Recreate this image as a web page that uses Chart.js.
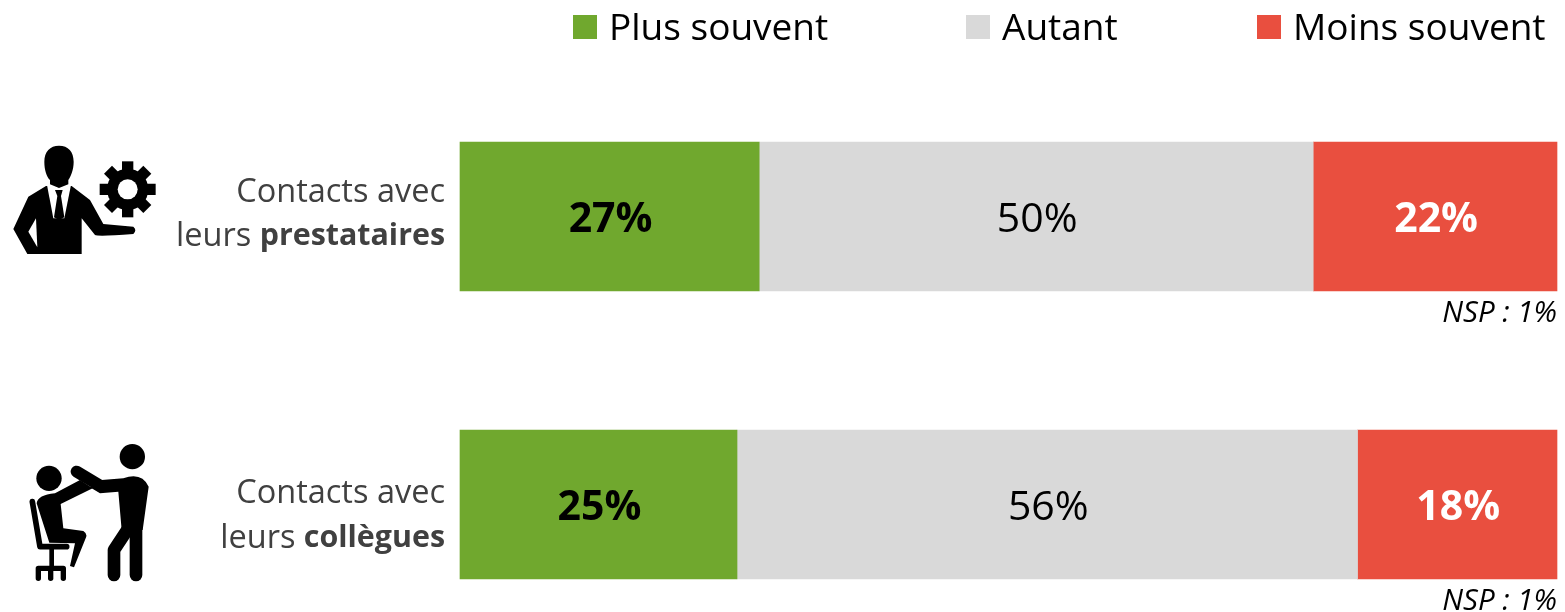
<!DOCTYPE html>
<html>
<head>
<meta charset="utf-8">
<script src="https://cdn.jsdelivr.net/npm/chart.js@4"></script>
<style>
  html,body{margin:0;padding:0;background:#fff;overflow:hidden}
  #wrap{position:relative;width:1565px;height:612px}
  #wrap svg{position:absolute;left:0;top:0}
</style>
</head>
<body>
<div id="wrap">
<canvas id="chart" width="1565" height="612"></canvas>
<svg width="1565" height="612" fill="#000" stroke="none">
  <!-- man with gear, sketched at 3x -->
  <g transform="translate(0,130) scale(.33333)">
    <path d="M138,168 L85,200 L40,297 L82,372 L245,372 L245,265 L285,315 Q295,320 400,312 Q412,300 400,290 L310,282 L270,210 L215,168Z"/>
    <path d="M108,265 L85,305 L112,352Z" fill="#fff"/>
    <path d="M140,160 L214,160 L193,265 L160,265Z" fill="#fff"/>
    <path d="M133,95 C133,65 150,47 177,47 C205,47 221,65 221,95 C221,120 212,140 205,150 L205,163 L177,174 L150,163 L150,150 C140,140 133,120 133,95Z"/>
    <path d="M165,180 L188,180 L183,198 L193,262 L177,270 L162,262 L172,198Z"/>
    <g stroke="#000" stroke-width="34">
      <line x1="299" y1="178" x2="467" y2="178"/>
      <line x1="383" y1="94" x2="383" y2="262"/>
      <line x1="324" y1="119" x2="442" y2="237"/>
      <line x1="442" y1="119" x2="324" y2="237"/>
    </g>
    <circle cx="383" cy="178" r="62"/>
    <circle cx="383" cy="178" r="30" fill="#fff"/>
  </g>
  <!-- two people, sketched at 3x -->
  <g transform="translate(0,430) scale(.33333)">
    <circle cx="397" cy="80" r="38"/>
    <circle cx="147" cy="145" r="38"/>
    <path d="M305,150 L370,145 Q425,125 446,170 L428,300 L365,300 L355,185 L300,190 L270,172Z"/>
    <g stroke="#000" fill="none" stroke-linecap="round" stroke-linejoin="round">
      <polyline points="408,290 408,435" stroke-width="38"/>
      <polyline points="385,295 342,360 342,435" stroke-width="38"/>
      <line x1="230" y1="125" x2="305" y2="170" stroke-width="36"/>
      <polyline points="97,215 120,350 200,350" stroke-width="17"/>
      <line x1="155" y1="350" x2="155" y2="412" stroke-width="14"/>
      <polyline points="115,445 115,415 190,415 190,445" stroke-width="16"/>
      <line x1="152" y1="415" x2="152" y2="445" stroke-width="16"/>
    </g>
    <path d="M110,220 Q113,195 165,190 L240,150 L278,175 L182,222 L190,295 L250,303 Q264,312 257,325 L222,412 L210,408 L225,340 L148,338Z"/>
  </g>
</svg>
</div>
<script>
const categories = [['Contacts avec', 'leurs ', 'prestataires'], ['Contacts avec', 'leurs ', 'collègues']];
const seriesNames = ['Plus souvent', 'Autant', 'Moins souvent'];
const plusSouvent = [27, 25];
const autant = [50, 56];
const moinsSouvent = [22, 18];
const nsp = ['NSP : 1%', 'NSP : 1%'];
const colors = ['#70a82e', '#d9d9d9', '#e94f3f'];
const labelColors = ['#000', '#000', '#fff'];
const labelWeights = ['bold', 'normal', 'bold'];
const legendX = [573, 966, 1257];
const line1Offset = [-24, -11];
const line2Offset = [20, 34];
const FONT = '"Open Sans", sans-serif';

const annotate = {
  id: 'annotate',
  afterDraw(chart) {
    const c = chart.ctx;
    c.save();
    // legend
    c.textBaseline = 'middle';
    c.textAlign = 'left';
    seriesNames.forEach((name, i) => {
      c.fillStyle = colors[i];
      c.fillRect(legendX[i], 15, 24, 24);
      c.fillStyle = '#000';
      c.font = '37px ' + FONT;
      c.fillText(name, legendX[i] + 36, 29);
    });
    // value labels in the bars
    chart.data.datasets.forEach((ds, d) => {
      chart.getDatasetMeta(d).data.forEach((bar, i) => {
        c.textAlign = 'center';
        c.fillStyle = labelColors[d];
        c.font = labelWeights[d] + ' 41px ' + FONT;
        c.fillText(ds.data[i] + '%', (bar.base + bar.x) / 2 + 1, bar.y + 4);
      });
    });
    // category labels and NSP
    const meta = chart.getDatasetMeta(0).data;
    categories.forEach((cat, i) => {
      const y = meta[i].y;
      c.textAlign = 'right';
      c.fillStyle = '#404040';
      c.font = '32.5px ' + FONT;
      c.fillText(cat[0], 445, y + line1Offset[i]);
      c.font = 'bold 30.4px ' + FONT;
      c.fillText(cat[2], 445, y + line2Offset[i]);
      const w = c.measureText(cat[2]).width;
      c.font = '32.5px ' + FONT;
      c.fillText(cat[1], 445 - w, y + line2Offset[i]);
      c.fillStyle = '#000';
      c.font = 'italic 29.5px ' + FONT;
      c.fillText(nsp[i], 1557, y + 97);
    });
    c.restore();
  }
};

new Chart(document.getElementById('chart'), {
  type: 'bar',
  data: {
    labels: categories.map(c => c[1] + c[2]),
    datasets: [plusSouvent, autant, moinsSouvent].map((data, i) => ({
      label: seriesNames[i], data, backgroundColor: colors[i], borderWidth: 0,
      barThickness: 149, clip: false
    }))
  },
  options: {
    indexAxis: 'y',
    responsive: false,
    animation: false,
    layout: { padding: { left: 460, right: 8, top: 216.5, bottom: 107.5 } },
    plugins: { legend: { display: false }, tooltip: { enabled: false } },
    scales: {
      x: { stacked: true, display: false, min: 0, max: 99 },
      y: { stacked: true, display: false, offset: false }
    }
  },
  plugins: [annotate]
});
</script>
</body>
</html>
